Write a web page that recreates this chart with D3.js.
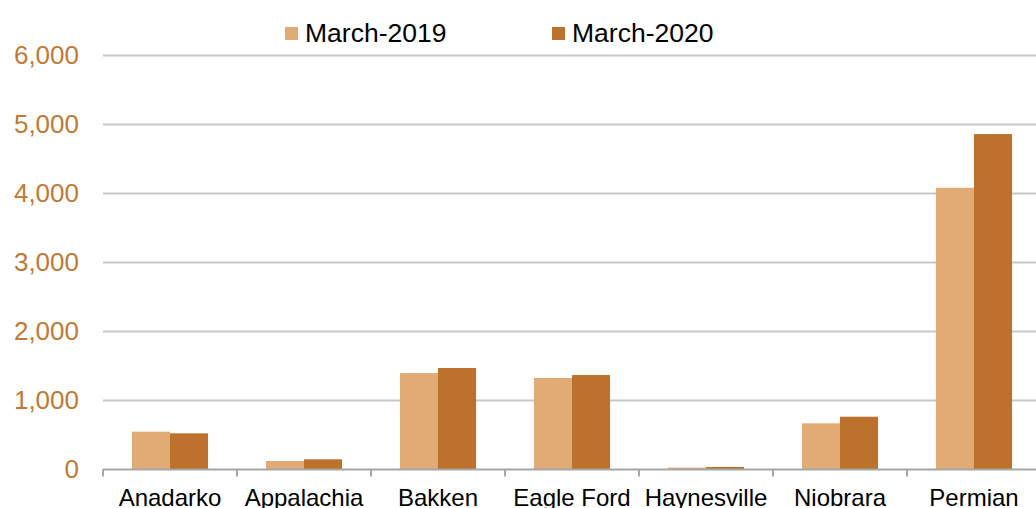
<!DOCTYPE html>
<html>
<head>
<meta charset="utf-8">
<script src="https://cdn.jsdelivr.net/npm/d3@7"></script>
<style>
  body { margin: 0; background: #fff; }
  text { font-family: "Liberation Sans", Arial, sans-serif; }
</style>
</head>
<body>
<div id="chart"></div>
<script>
// data
var basins = ["Anadarko", "Appalachia", "Bakken", "Eagle Ford", "Haynesville", "Niobrara", "Permian"];
var series = ["March-2019", "March-2020"];
var march2019 = [540, 116, 1389, 1317, 20, 661, 4071];
var march2020 = [516, 140, 1462, 1360, 30, 757, 4848];
var yTicks = [0, 1000, 2000, 3000, 4000, 5000, 6000];

var colors = ["#E2AB76", "#BC722C"];

var W = 1036, H = 508;
var margin = {top: 54.5, left: 103, bottom: 39};

var svg = d3.select("#chart").append("svg")
    .attr("width", W)
    .attr("height", H);

var x = d3.scaleBand()
    .domain(basins)
    .range([margin.left, margin.left + 134 * basins.length])
    .padding(0);

var x1 = d3.scaleBand()
    .domain(series)
    .range([0, x.bandwidth()])
    .paddingInner(0)
    .paddingOuter(0.76);

var y = d3.scaleLinear()
    .domain([0, 6000])
    .range([H - margin.bottom, margin.top]);

// gridlines
svg.append("g")
  .selectAll("line")
  .data(yTicks.slice(1))
  .enter().append("line")
    .attr("x1", margin.left)
    .attr("x2", W)
    .attr("y1", function(d) { return Math.round(y(d)) + 0.5; })
    .attr("y2", function(d) { return Math.round(y(d)) + 0.5; })
    .style("stroke", "#C8C8C8")
    .style("stroke-width", 2);

// y labels
svg.append("g")
  .selectAll("text")
  .data(yTicks)
  .enter().append("text")
    .attr("x", 79)
    .attr("y", function(d) { return y(d) + 9; })
    .attr("text-anchor", "end")
    .style("font-size", "26px")
    .style("fill", "#C07A36")
    .text(function(d) { return d3.format(",")(d); });

// bars
var rows = basins.map(function(b, i) {
  return {basin: b, vals: [march2019[i], march2020[i]]};
});

var groups = svg.append("g")
  .selectAll("g")
  .data(rows)
  .enter().append("g")
    .attr("transform", function(d) { return "translate(" + x(d.basin) + ",0)"; });

groups.selectAll("rect")
  .data(function(d) { return d.vals.map(function(v, j) { return {s: series[j], v: v, j: j}; }); })
  .enter().append("rect")
    .attr("x", function(d) { return x1(d.s); })
    .attr("width", x1.bandwidth())
    .attr("y", function(d) { return y(d.v); })
    .attr("height", function(d) { return y(0) - y(d.v); })
    .style("fill", function(d) { return colors[d.j]; });

// x axis
var xAxis = d3.axisBottom(x).tickSize(0).tickPadding(0);
var gx = svg.append("g")
    .attr("transform", "translate(0," + (Math.round(y(0)) + 0.5) + ")")
    .call(xAxis);
gx.select(".domain").remove();
gx.append("line")
    .attr("x1", margin.left).attr("x2", W)
    .style("stroke", "#A6A6A6").style("stroke-width", 2);
gx.selectAll(".tick text")
    .attr("y", 36)
    .attr("dy", 0)
    .style("font-size", "24px")
    .style("font-family", "'Liberation Sans', Arial, sans-serif")
    .style("fill", "#000");

// category separators
gx.selectAll(".sep")
  .data(basins.concat(["end"]))
  .enter().append("line")
    .attr("class", "sep")
    .attr("x1", function(d, i) { return margin.left + i * x.step(); })
    .attr("x2", function(d, i) { return margin.left + i * x.step(); })
    .attr("y1", 0).attr("y2", 7)
    .style("stroke", "#A6A6A6").style("stroke-width", 2);

// legend
var legX = [285, 552];
var legend = svg.append("g")
  .selectAll("g")
  .data(series)
  .enter().append("g")
    .attr("transform", function(d, i) { return "translate(" + legX[i] + ",0)"; });

legend.append("rect")
    .attr("y", 27)
    .attr("width", 13)
    .attr("height", 13)
    .style("fill", function(d, i) { return colors[i]; });

legend.append("text")
    .attr("x", 20)
    .attr("y", 42)
    .style("font-size", "26.5px")
    .style("fill", "#000")
    .text(function(d) { return d; });
</script>
</body>
</html>
